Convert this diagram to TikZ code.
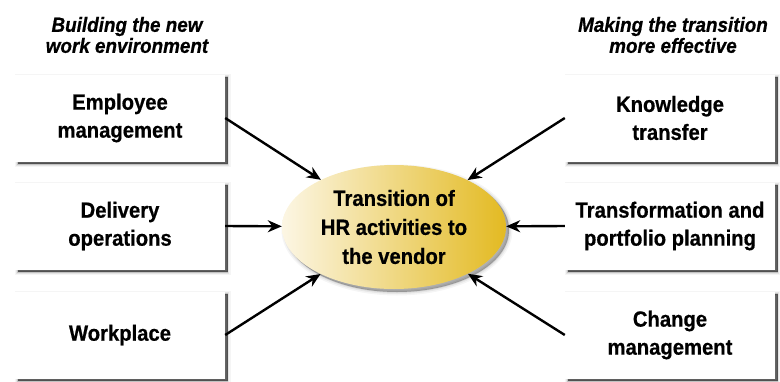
\documentclass[tikz,border=0pt]{standalone}
\usepackage{fontspec}
\setmainfont{Liberation Sans}[FakeStretch=0.92,FakeBold=0.6]
\usetikzlibrary{shapes.geometric,arrows.meta,shadows}

\definecolor{goldR}{HTML}{E3BA22}
\definecolor{goldL}{HTML}{FCF6E4}

\begin{document}
\begin{tikzpicture}[x=1pt,y=-1pt,
  softshadow/.style={
    general shadow={shadow xshift=2.5pt,shadow yshift=-2.5pt,fill=black,draw=black,line width=6pt,opacity=.04},
    general shadow={shadow xshift=2.5pt,shadow yshift=-2.5pt,fill=black,draw=black,line width=3.5pt,opacity=.07},
    general shadow={shadow xshift=2.5pt,shadow yshift=-2.5pt,fill=black,draw=black,line width=1.5pt,opacity=.15},
    general shadow={shadow xshift=2.5pt,shadow yshift=-2.5pt,fill=black,opacity=.45}},
  hubshadow/.style={
    general shadow={shadow xshift=3pt,shadow yshift=-3pt,fill=black,draw=black,line width=7pt,opacity=.04},
    general shadow={shadow xshift=3pt,shadow yshift=-3pt,fill=black,draw=black,line width=4pt,opacity=.06},
    general shadow={shadow xshift=3pt,shadow yshift=-3pt,fill=black,draw=black,line width=1.5pt,opacity=.08},
    general shadow={shadow xshift=3pt,shadow yshift=-3pt,fill=black,opacity=.15}},
  topic/.style={fill=white, minimum width=210pt, minimum height=87pt,
    inner sep=0pt, align=center, softshadow,
    font=\fontsize{22}{28}\selectfont\bfseries},
  hub/.style={ellipse, minimum width=224pt, minimum height=124pt, inner sep=0pt,
    left color=goldL, right color=goldR, align=center, hubshadow,
    font=\fontsize{22}{29}\selectfont\bfseries},
  heading/.style={align=center, font=\fontsize{20.5}{21}\selectfont\bfseries\itshape},
  feed/.style={line width=2.4pt, -{Stealth[length=14pt,width=12pt,inset=4.5pt]}},
]
\useasboundingbox (0,0) rectangle (780,381);

% column headings
\node[heading] (hl) at (127,35) {Building the new\\work environment};
\node[heading] (hr) at (673,35) {Making the transition\\more effective};

% left column
\node[topic] (emp)  at (120,118) {Employee\\management};
\node[topic] (del)  at (120,226) {Delivery\\operations};
\node[topic] (work) at (120,335) {Workplace};

% right column
\node[topic] (know)   at (670,118) {Knowledge\\transfer};
\node[topic] (trans)  at (670,226) {Transformation and\\portfolio planning};
\node[topic] (change) at (670,335) {Change\\management};

% central goal
\node[hub] (hub) at (394,227) {Transition of\\HR activities to\\the vendor};

% connectors
\draw[feed] (emp.east)    -- (hub);
\draw[feed] (del.east)    -- (hub);
\draw[feed] (work.east)   -- (hub);
\draw[feed] (know.west)   -- (hub);
\draw[feed] (trans.west)  -- (hub);
\draw[feed] (change.west) -- (hub);
\end{tikzpicture}
\end{document}
